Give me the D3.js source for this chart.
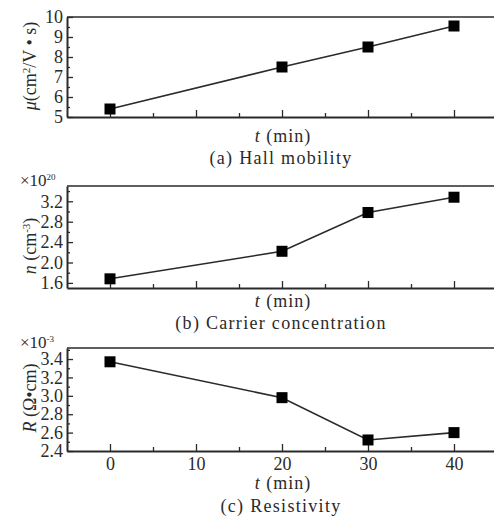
<!DOCTYPE html>
<meta charset="utf-8">
<body style="margin:0;background:#fff">
<script src="https://d3js.org/d3.v7.min.js"></script>
<svg></svg>
<script>
    // values
    var times = [0, 20, 30, 40];
    var mobility = [5.4, 7.5, 8.5, 9.55];        // cm2/V.s
    var carrier = [1.68, 2.22, 2.98, 3.28];      // x10^20 cm-3
    var resistivity = [3.37, 2.98, 2.52, 2.60];  // x10^-3 ohm.cm

    var xTicks = [0, 10, 20, 30, 40];
    var xMinor = [5, 15, 25, 35];
    var mobTicks = [5, 6, 7, 8, 9, 10];
    var mobMinor = [5.5, 6.5, 7.5, 8.5, 9.5];
    var carTicks = [1.6, 2.0, 2.4, 2.8, 3.2];
    var carMinor = [1.8, 2.2, 2.6, 3.0, 3.4];
    var resTicks = [2.4, 2.6, 2.8, 3.0, 3.2, 3.4];
    var resMinor = [2.5, 2.7, 2.9, 3.1, 3.3, 3.5];

    var width = 494, height = 517;
    var ink = "#2a2a2a";
    var font = "'Liberation Serif', 'Times New Roman', serif";

    var svg = d3.select("svg")
        .attr("width", width)
        .attr("height", height)
        .style("font-family", font);

    var x = d3.scaleLinear().domain([-5, 45]).range([67, 497]);

    var panels = [
        {values: mobility, domain: [5, 10], range: [117, 17], ticks: mobTicks, minor: mobMinor,
         fmt: d3.format("d"), labelY: 66, title: "(a) Hall mobility", tY: 142, capY: 164},
        {values: carrier, domain: [1.5, 3.5], range: [288, 186], ticks: carTicks, minor: carMinor,
         fmt: d3.format(".1f"), labelY: 246, title: "(b) Carrier concentration", tY: 307, capY: 329},
        {values: resistivity, domain: [2.4, 3.52], range: [451, 348], ticks: resTicks, minor: resMinor,
         fmt: d3.format(".1f"), labelY: 398, title: "(c) Resistivity", tY: 489, capY: 512, xLabels: true}
    ];

    panels.forEach(function(p, i) {
        var y = d3.scaleLinear().domain(p.domain).range(p.range);
        var g = svg.append("g");
        var bottom = p.range[0], top = p.range[1];

        // top frame line
        g.append("line")
            .attr("x1", x.range()[0]).attr("x2", width)
            .attr("y1", top).attr("y2", top)
            .attr("stroke", ink).attr("stroke-width", 1.6);

        // x axis, ticks pointing inward
        g.append("g").attr("transform", "translate(0," + bottom + ")")
            .call(d3.axisBottom(x).tickValues(xTicks).tickSize(-7).tickSizeOuter(0).tickPadding(6)
                .tickFormat(p.xLabels ? d3.format("d") : ""));
        g.append("g").attr("transform", "translate(0," + bottom + ")")
            .call(d3.axisBottom(x).tickValues(xMinor).tickSize(-4).tickSizeOuter(0).tickFormat(""))
            .select(".domain").remove();

        // y axis
        g.append("g").attr("transform", "translate(" + x.range()[0] + ",0)")
            .call(d3.axisLeft(y).tickValues(p.ticks).tickSize(-6).tickSizeOuter(0).tickPadding(4)
                .tickFormat(p.fmt));
        g.append("g").attr("transform", "translate(" + x.range()[0] + ",0)")
            .call(d3.axisLeft(y).tickValues(p.minor).tickSize(-3).tickSizeOuter(0).tickFormat(""))
            .select(".domain").remove();

        g.selectAll(".domain").attr("stroke", ink).attr("stroke-width", 2);
        g.selectAll(".tick line").attr("stroke", ink).attr("stroke-width", 1.3);
        g.selectAll(".tick text").attr("fill", ink)
            .style("font-family", font).style("font-size", "18px");

        // data line and square markers
        var pts = times.map(function(t, k) { return [t, p.values[k]]; });
        g.append("path")
            .datum(pts)
            .attr("fill", "none").attr("stroke", ink).attr("stroke-width", 1.6)
            .attr("d", d3.line().x(function(d) { return x(d[0]); }).y(function(d) { return y(d[1]); }));
        g.selectAll("rect.pt")
            .data(pts)
            .enter().append("rect").attr("class", "pt")
            .attr("x", function(d) { return x(d[0]) - 5.5; })
            .attr("y", function(d) { return y(d[1]) - 5.5; })
            .attr("width", 11).attr("height", 11)
            .attr("fill", "#000");

        // x label and panel caption
        var tl = g.append("text")
            .attr("x", 283).attr("y", p.tY)
            .attr("text-anchor", "middle").attr("fill", ink)
            .style("font-size", "18px").style("letter-spacing", "1px");
        tl.append("tspan").style("font-style", "italic").text("t");
        tl.append("tspan").text(" (min)");

        g.append("text")
            .attr("x", 281).attr("y", p.capY)
            .attr("text-anchor", "middle").attr("fill", ink)
            .style("font-size", "18px").style("letter-spacing", "1.3px")
            .text(p.title);
    });

    // y axis titles (rotated)
    function yTitle(cy) {
        return svg.append("text")
            .attr("transform", "translate(36," + cy + ") rotate(-90)")
            .attr("text-anchor", "middle").attr("fill", ink)
            .style("font-size", "18px");
    }
    var t1 = yTitle(panels[0].labelY);
    t1.append("tspan").style("font-style", "italic").text("μ");
    t1.append("tspan").text("(cm");
    t1.append("tspan").attr("dy", -6).style("font-size", "11px").text("2");
    t1.append("tspan").attr("dy", 6).text("/V • s)");

    var t2 = yTitle(panels[1].labelY);
    t2.append("tspan").style("font-style", "italic").text("n");
    t2.append("tspan").text(" (cm");
    t2.append("tspan").attr("dy", -6).style("font-size", "11px").text("-3");
    t2.append("tspan").attr("dy", 6).text(")");

    var t3 = yTitle(panels[2].labelY);
    t3.append("tspan").style("font-style", "italic").text("R");
    t3.append("tspan").text(" (Ω•cm)");

    // exponent multipliers
    function mult(yy, exp) {
        var m = svg.append("text").attr("x", 20).attr("y", yy).attr("fill", ink)
            .style("font-size", "17px");
        m.append("tspan").text("×10");
        m.append("tspan").attr("dy", -6).style("font-size", "9px").text(exp);
    }
    mult(186, "20");
    mult(348, "-3");
</script>
